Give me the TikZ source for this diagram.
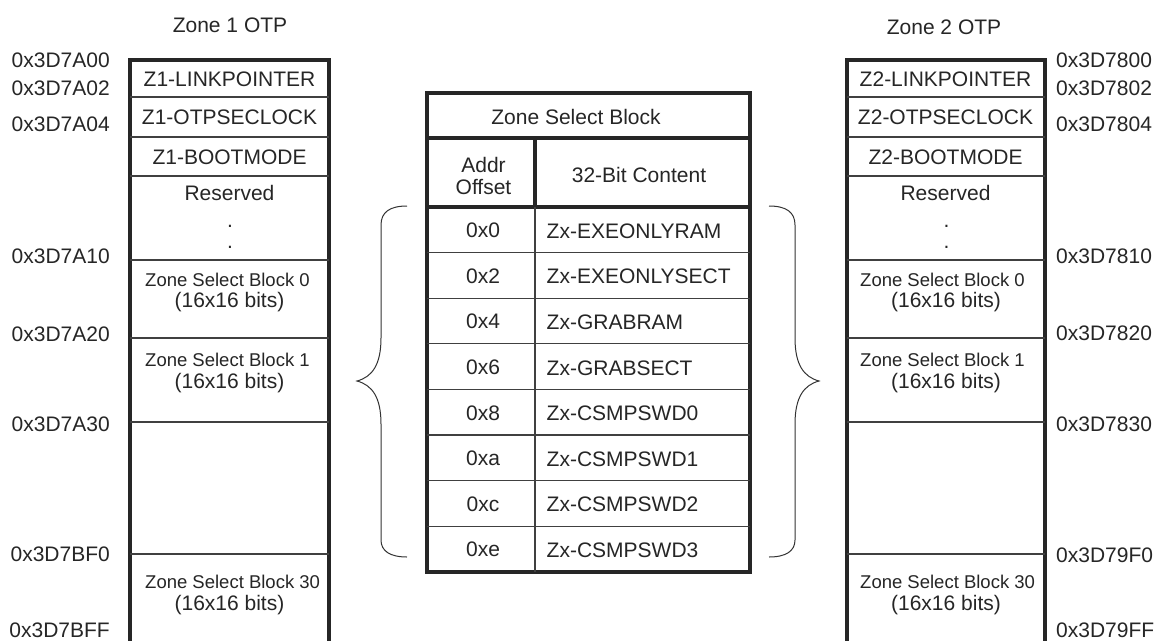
\documentclass[tikz,border=0pt]{standalone}
\usepackage{fontspec}
\setmainfont{Liberation Sans}
\begin{document}
\begin{tikzpicture}[x=1pt,y=-1pt,
  frame/.style={line width=3.2pt, draw=black!85, line join=miter},
  rowline/.style={line width=1.1pt, draw=black!75},
  txt/.style={text=black!85, inner sep=0pt, font=\fontsize{21}{24}\selectfont},
  smalltxt/.style={text=black!85, inner sep=0pt, font=\fontsize{18.5}{20}\selectfont, anchor=west},
  addrL/.style={txt, anchor=east},
  addrR/.style={txt, anchor=west},
  dotnode/.style={txt, anchor=base},
  bracepath/.style={line width=1pt, draw=black!80}]
\useasboundingbox (0,0) rectangle (1154,640);
\fill[white] (0,0) rectangle (1154,640);

% ---------- memory columns ----------
\foreach \xl/\xr in {130/329, 847/1045} {
  \draw[frame] (\xl,645) -- (\xl,60) -- (\xr,60) -- (\xr,645);
  \foreach \y in {97,137,176,260,338,422,554}
    \draw[rowline] (\xl,\y) -- (\xr,\y);
}

% ---------- left column (Zone 1) ----------
\node[txt] (z1title) at (230,25) {Zone 1 OTP};
\node[txt] (z1link) at (229.5,79) {Z1-LINKPOINTER};
\node[txt] (z1otp) at (229.5,117) {Z1-OTPSECLOCK};
\node[txt] (z1boot) at (229.5,157) {Z1-BOOTMODE};
\node[txt] (z1res) at (229.5,193) {Reserved};
\node[dotnode] (z1d1) at (230,227) {.};
\node[dotnode] (z1d2) at (230,248) {.};
\node[smalltxt] (z1b0) at (145,280) {Zone Select Block 0};
\node[txt] (z1b0s) at (229.5,302.5) {(16x16 bits)};
\node[smalltxt] (z1b1) at (145,360) {Zone Select Block 1};
\node[txt] (z1b1s) at (229.5,383) {(16x16 bits)};
\node[smalltxt] (z1b30) at (145,582) {Zone Select Block 30};
\node[txt] (z1b30s) at (229.5,605) {(16x16 bits)};

\node[addrL] (a1) at (110,60) {0x3D7A00};
\node[addrL] (a2) at (110,88.5) {0x3D7A02};
\node[addrL] (a3) at (110,124.5) {0x3D7A04};
\node[addrL] (a4) at (110,256) {0x3D7A10};
\node[addrL] (a5) at (110,334) {0x3D7A20};
\node[addrL] (a6) at (110,424) {0x3D7A30};
\node[addrL] (a7) at (110,554) {0x3D7BF0};
\node[addrL] (a8) at (110,630) {0x3D7BFF};

% ---------- right column (Zone 2) ----------
\node[txt] (z2title) at (944,27) {Zone 2 OTP};
\node[txt] (z2link) at (945.5,79) {Z2-LINKPOINTER};
\node[txt] (z2otp) at (945.5,117) {Z2-OTPSECLOCK};
\node[txt] (z2boot) at (945.5,157) {Z2-BOOTMODE};
\node[txt] (z2res) at (945.5,193) {Reserved};
\node[dotnode] (z2d1) at (946.5,227) {.};
\node[dotnode] (z2d2) at (946.5,248) {.};
\node[smalltxt] (z2b0) at (860,280) {Zone Select Block 0};
\node[txt] (z2b0s) at (946,302.5) {(16x16 bits)};
\node[smalltxt] (z2b1) at (860,360) {Zone Select Block 1};
\node[txt] (z2b1s) at (946,383) {(16x16 bits)};
\node[smalltxt] (z2b30) at (860,582) {Zone Select Block 30};
\node[txt] (z2b30s) at (946,605) {(16x16 bits)};

\node[addrR] (b1) at (1056,60) {0x3D7800};
\node[addrR] (b2) at (1056,88) {0x3D7802};
\node[addrR] (b3) at (1056,124) {0x3D7804};
\node[addrR] (b4) at (1056,256) {0x3D7810};
\node[addrR] (b5) at (1056,333) {0x3D7820};
\node[addrR] (b6) at (1056,424) {0x3D7830};
\node[addrR] (b7) at (1056,555) {0x3D79F0};
\node[addrR] (b8) at (1056,630) {0x3D79FF};

% ---------- middle table ----------
\draw[frame] (427,93) rectangle (750,572);
\draw[frame] (427,138) -- (750,138);
\draw[frame] (427,207) -- (750,207);
\draw[frame] (535,138) -- (535,207);
\draw[rowline] (535,207) -- (535,572);
\foreach \k in {1,...,7}
  \draw[rowline] (427,207+45.6*\k) -- (750,207+45.6*\k);

\node[txt] (zsb) at (576,117) {Zone Select Block};
\node[txt, align=center, font=\fontsize{21}{22.5}\selectfont] (addr) at (483.5,176) {Addr\\Offset};
\node[txt] (content) at (639,174.5) {32-Bit Content};

\foreach \off/\name [count=\i from 0] in {0x0/Zx-EXEONLYRAM, 0x2/Zx-EXEONLYSECT, 0x4/Zx-GRABRAM, 0x6/Zx-GRABSECT, 0x8/Zx-CSMPSWD0, 0xa/Zx-CSMPSWD1, 0xc/Zx-CSMPSWD2, 0xe/Zx-CSMPSWD3} {
  \node[txt] (off\i) at (483,230.5+45.6*\i) {\off};
  \node[txt, anchor=west] (cnt\i) at (546.5,231+45.6*\i) {\name};
}

% ---------- braces ----------
\draw[bracepath] (407,206) .. controls (390,206) and (381,212) .. (381,225)
  -- (381,338) .. controls (381,365) and (372,377) .. (357,381)
  .. controls (372,385) and (381,397) .. (381,424)
  -- (381,540) .. controls (381,551) and (390,557) .. (407,557);
\draw[bracepath] (769,206) .. controls (786,206) and (795,212) .. (795,225)
  -- (795,338) .. controls (795,365) and (804,377) .. (819,381)
  .. controls (804,385) and (795,397) .. (795,424)
  -- (795,540) .. controls (795,551) and (786,557) .. (769,557);
\end{tikzpicture}
\end{document}
